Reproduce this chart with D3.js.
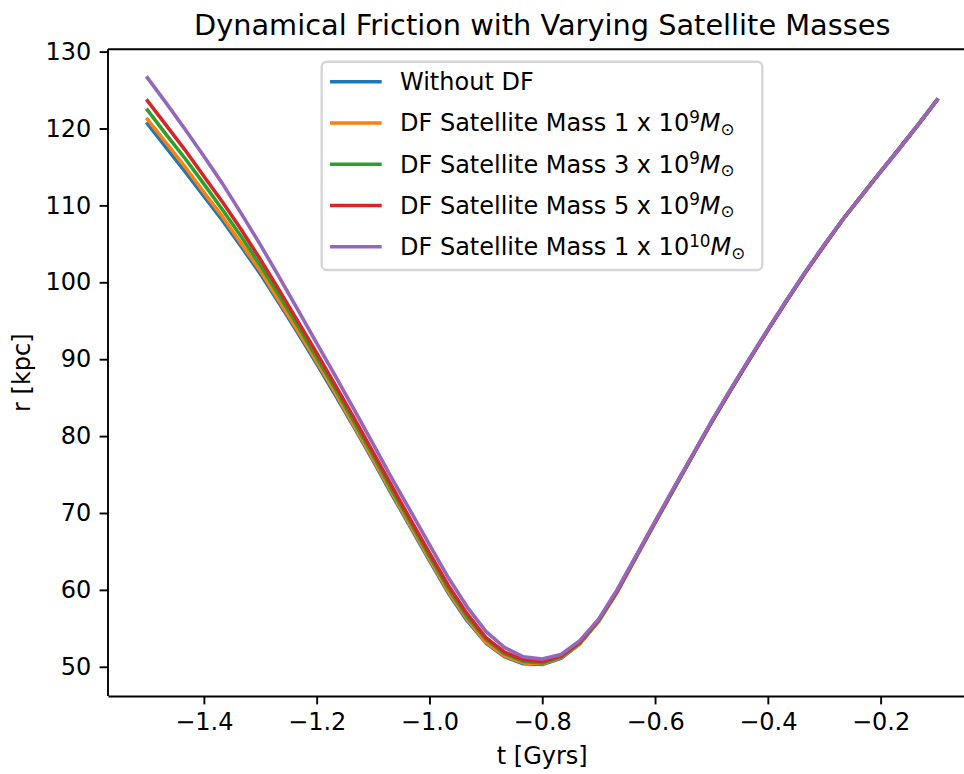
<!DOCTYPE html>
<html>
<head>
<meta charset="utf-8">
<script src="https://cdn.jsdelivr.net/npm/d3@7"></script>
<style>
body{margin:0;background:#fff}
text{font-family:"DejaVu Sans",sans-serif;fill:#000}
</style>
</head>
<body>
<svg id="chart" width="964" height="774"></svg>
<script>
// time samples [Gyr]
var times = [-1.5,-1.4667,-1.4333,-1.4,-1.3667,-1.3333,-1.3,-1.2667,-1.2333,-1.2,
  -1.1667,-1.1333,-1.1,-1.0667,-1.0333,-1.0,-0.9667,-0.9333,-0.9,-0.8667,
  -0.8333,-0.8,-0.7667,-0.7333,-0.7,-0.6667,-0.6333,-0.6,-0.5667,-0.5333,
  -0.5,-0.4667,-0.4333,-0.4,-0.3667,-0.3333,-0.3,-0.2667,-0.2333,-0.2,
  -0.1667,-0.1333,-0.1];

// r [kpc] per run
var withoutDF = [120.6,117.5,114.4,111.2,108.0,104.6,101.1,97.3,93.4,89.4,
  85.3,81.1,76.8,72.4,68.1,63.8,59.6,56.0,53.1,51.3,
  50.4,50.3,51.1,53.0,55.9,59.8,64.3,68.7,73.1,77.5,
  81.8,85.9,89.9,93.8,97.6,101.3,104.8,108.2,111.3,114.4,
  117.4,120.5,123.7];
var mass1e9 = [121.2,118.1,115.0,111.7,108.5,105.0,101.5,97.6,93.7,89.7,
  85.6,81.3,77.0,72.6,68.3,64.0,59.8,56.2,53.2,51.4,
  50.5,50.4,51.2,53.0,55.9,59.8,64.3,68.7,73.1,77.5,
  81.8,85.9,89.9,93.8,97.6,101.3,104.8,108.2,111.3,114.4,
  117.4,120.5,123.7];
var mass3e9 = [122.4,119.2,116.1,112.8,109.4,105.9,102.2,98.3,94.3,90.2,
  86.1,81.8,77.5,73.0,68.7,64.4,60.2,56.5,53.6,51.7,
  50.7,50.5,51.3,53.1,56.0,59.9,64.4,68.8,73.1,77.5,
  81.8,85.9,89.9,93.8,97.6,101.3,104.8,108.2,111.3,114.4,
  117.4,120.5,123.7];
var mass5e9 = [123.6,120.4,117.2,113.8,110.4,106.8,103.0,99.0,94.9,90.8,
  86.6,82.3,77.9,73.5,69.1,64.8,60.6,56.9,53.8,51.9,
  50.9,50.7,51.4,53.2,56.1,59.9,64.4,68.8,73.2,77.5,
  81.8,85.9,89.9,93.8,97.6,101.3,104.8,108.2,111.3,114.4,
  117.4,120.5,123.7];
var mass1e10 = [126.6,123.3,119.9,116.4,112.8,108.9,104.9,100.7,96.4,92.1,
  87.8,83.4,79.0,74.5,70.2,65.9,61.6,57.8,54.6,52.5,
  51.3,51.0,51.6,53.4,56.2,60.1,64.5,68.9,73.3,77.6,
  81.9,86.0,90.0,93.9,97.7,101.4,104.9,108.2,111.3,114.4,
  117.4,120.5,123.7];

var legendPrefix = ["Without DF","DF Satellite Mass 1 x 10","DF Satellite Mass 3 x 10",
  "DF Satellite Mass 5 x 10","DF Satellite Mass 1 x 10"];
var legendExponent = ["","9","9","9","10"];
var seriesColors = ["#1f77b4","#ff7f0e","#2ca02c","#d62728","#9467bd"];

var xTicks = [-1.4,-1.2,-1.0,-0.8,-0.6,-0.4,-0.2];
var yTicks = [50,60,70,80,90,100,110,120,130];

var allSeries = [withoutDF,mass1e9,mass3e9,mass5e9,mass1e10];

var box = {left:108,top:49.3,right:976.5,bottom:696};

var svg = d3.select("#chart");
svg.append("rect").attr("width",964).attr("height",774).attr("fill","#fff");

var xScale = d3.scaleLinear().domain([-1.57,-0.03]).range([box.left,box.right]);
var yScale = d3.scaleLinear().domain([46.2,130.3]).range([box.bottom,box.top]);

var line = d3.line()
  .x(function(d,i){return xScale(times[i]);})
  .y(function(d){return yScale(d);});

svg.append("g").selectAll("path")
  .data(allSeries)
  .enter()
  .append("path")
  .attr("d",line)
  .attr("fill","none")
  .attr("stroke",function(d,i){return seriesColors[i];})
  .attr("stroke-width",3.6)
  .attr("stroke-linejoin","round")
  .attr("stroke-linecap","square");

// axes
var xAxis = d3.axisBottom(xScale).tickValues(xTicks).tickFormat(d3.format(".1f"))
  .tickSizeInner(8.4).tickSizeOuter(0).tickPadding(8.4);
var yAxis = d3.axisLeft(yScale).tickValues(yTicks).tickFormat(d3.format("d"))
  .tickSizeInner(8.4).tickSizeOuter(0).tickPadding(8.4);

var gx = svg.append("g").attr("transform","translate(0,"+box.bottom+")").call(xAxis);
var gy = svg.append("g").attr("transform","translate("+box.left+",0)").call(yAxis);
[gx,gy].forEach(function(g){
  g.selectAll("path,line").attr("stroke","#000").attr("stroke-width",1.9);
  g.selectAll("text").attr("font-size",24).attr("font-family","DejaVu Sans").attr("fill","#000");
});
gy.selectAll(".domain").attr("d","M0,"+box.bottom+"V"+box.top);

svg.append("line").attr("x1",box.left).attr("x2",box.right)
  .attr("y1",box.top).attr("y2",box.top)
  .attr("stroke","#000").attr("stroke-width",1.9);
svg.append("line").attr("x1",box.right).attr("x2",box.right)
  .attr("y1",box.top).attr("y2",box.bottom)
  .attr("stroke","#000").attr("stroke-width",1.9);

// labels
var midX = (box.left+box.right)/2;
svg.append("text").text("Dynamical Friction with Varying Satellite Masses")
  .attr("x",midX).attr("y",35).attr("text-anchor","middle").attr("font-size",28.8);
svg.append("text").text("t [Gyrs]")
  .attr("x",midX).attr("y",764).attr("text-anchor","middle").attr("font-size",24);
svg.append("text").text("r [kpc]")
  .attr("text-anchor","middle").attr("font-size",24)
  .attr("transform","translate(30,"+((box.top+box.bottom)/2)+") rotate(-90)");

// legend
var legend = svg.append("g");
legend.append("rect")
  .attr("x",321.7).attr("y",61.7).attr("width",440.6).attr("height",208.3)
  .attr("rx",5).attr("ry",5)
  .attr("fill","#fff").attr("fill-opacity",0.8)
  .attr("stroke","#d6d6d6").attr("stroke-width",2.4);

var entries = legend.selectAll("g.entry")
  .data(legendPrefix)
  .enter()
  .append("g")
  .attr("class","entry")
  .attr("transform",function(d,i){return "translate(0,"+(81.7+i*41.25)+")";});

entries.append("line")
  .attr("x1",330).attr("x2",381.7).attr("y1",0).attr("y2",0)
  .attr("stroke",function(d,i){return seriesColors[i];})
  .attr("stroke-width",3.6);

var labels = entries.append("text")
  .attr("x",400).attr("y",8.4).attr("font-size",24);
labels.append("tspan").text(function(d){return d;});
labels.each(function(d,i){
  if(!legendExponent[i]) return;
  var t = d3.select(this);
  t.append("tspan").text(legendExponent[i]).attr("font-size",16.8).attr("dy",-8.5);
  t.append("tspan").text("M").attr("font-style","italic").attr("dy",8.5);
  t.append("tspan").text("\u2299").attr("font-size",16.8).attr("dy",3.5);
});
</script>
</body>
</html>
